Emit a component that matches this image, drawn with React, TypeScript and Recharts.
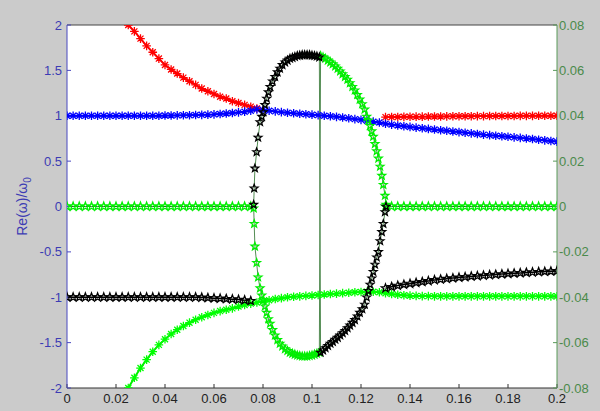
import { LineChart, Line, XAxis, YAxis, CartesianGrid } from "recharts";

// x positions of the smooth branches (step 0.0025)
const X_GRID = [
  0, 0.0025, 0.005, 0.0075, 0.01, 0.0125, 0.015, 0.0175, 0.02, 0.0225,
  0.025, 0.0275, 0.03, 0.0325, 0.035, 0.0375, 0.04, 0.0425, 0.045, 0.0475,
  0.05, 0.0525, 0.055, 0.0575, 0.06, 0.0625, 0.065, 0.0675, 0.07, 0.0725,
  0.075, 0.0775, 0.08, 0.0825, 0.085, 0.0875, 0.09, 0.0925, 0.095, 0.0975,
  0.1, 0.1025, 0.105, 0.1075, 0.11, 0.1125, 0.115, 0.1175, 0.12, 0.1225,
  0.125, 0.1275, 0.13, 0.1325, 0.135, 0.1375, 0.14, 0.1425, 0.145, 0.1475,
  0.15, 0.1525, 0.155, 0.1575, 0.16, 0.1625, 0.165, 0.1675, 0.17, 0.1725,
  0.175, 0.1775, 0.18, 0.1825, 0.185, 0.1875, 0.19, 0.1925, 0.195, 0.1975,
  0.2,
];

// Re(w)/w0, left axis
const BLUE = [
  1, 1, 1, 1, 1, 1, 1, 1, 1, 1,
  1, 1, 1, 1, 1, 1, 1.002, 1.003, 1.004, 1.005,
  1.006, 1.008, 1.01, 1.012, 1.015, 1.02, 1.025, 1.03, 1.037, 1.045,
  1.055, 1.07, 1.065, 1.055, 1.048, 1.04, 1.033, 1.027, 1.022, 1.017,
  1.012, 1.007, 1.0, 0.995, 0.988, 0.98, 0.972, 0.963, 0.955, 0.945,
  0.935, 0.925, 0.912, 0.902, 0.893, 0.885, 0.877, 0.869, 0.862, 0.855,
  0.848, 0.841, 0.834, 0.827, 0.82, 0.813, 0.806, 0.799, 0.792, 0.786,
  0.78, 0.774, 0.768, 0.762, 0.756, 0.75, 0.743, 0.736, 0.729, 0.722,
  0.715,
];

const RED = [
  null, null, null, null, null, null, null, null, null, null,
  2.0, 1.93, 1.85, 1.77, 1.7, 1.63, 1.56, 1.51, 1.465, 1.42,
  1.38, 1.34, 1.3, 1.27, 1.24, 1.21, 1.19, 1.16, 1.14, 1.12,
  1.1, 1.08, null, null, null, null, null, null, null, null,
  null, null, null, null, null, null, null, null, null, null,
  null, null, 0.985, 0.986, 0.987, 0.988, 0.989, 0.99, 0.99, 0.991,
  0.992, 0.992, 0.993, 0.994, 0.994, 0.995, 0.995, 0.996, 0.996, 0.997,
  0.997, 0.998, 0.998, 0.998, 0.999, 0.999, 0.999, 1, 1, 1,
  1,
];

const BLACK_SIDE = [
  -1, -1, -1, -1, -1, -1, -1, -1, -1, -1,
  -1, -1, -1, -1, -1, -1, -1, -1, -1, -1,
  -1, -1, -1.003, -1.006, -1.01, -1.013, -1.017, -1.021, -1.026, -1.032,
  -1.04, null, null, null, null, null, null, null, null, null,
  null, null, null, null, null, null, null, null, null, null,
  null, null, -0.9, -0.885, -0.872, -0.86, -0.85, -0.84, -0.83, -0.82,
  -0.81, -0.803, -0.796, -0.789, -0.782, -0.776, -0.77, -0.765, -0.76, -0.755,
  -0.75, -0.745, -0.74, -0.736, -0.732, -0.728, -0.724, -0.72, -0.717, -0.714,
  -0.71,
];

// Im(w), right axis
const GREEN_ZERO = [
  0, 0, 0, 0, 0, 0, 0, 0, 0, 0,
  0, 0, 0, 0, 0, 0, 0, 0, 0, 0,
  0, 0, 0, 0, 0, 0, 0, 0, 0, 0,
  0, null, null, null, null, null, null, null, null, null,
  null, null, null, null, null, null, null, null, null, null,
  null, null, 0, 0, 0, 0, 0, 0, 0, 0,
  0, 0, 0, 0, 0, 0, 0, 0, 0, 0,
  0, 0, 0, 0, 0, 0, 0, 0, 0, 0,
  0,
];

const GREEN_LOW = [
  null, null, null, null, null, null, null, null, null, null,
  -0.08, -0.0755, -0.0712, -0.0675, -0.064, -0.061, -0.0585, -0.0562, -0.0543, -0.0527,
  -0.0512, -0.0499, -0.0488, -0.0478, -0.0469, -0.0461, -0.0455, -0.0449, -0.0441, -0.0434,
  -0.0428, -0.0423, -0.0418, -0.0413, -0.0408, -0.0404, -0.04, -0.0398, -0.0396, -0.0394,
  -0.0392, -0.039, -0.0388, -0.0386, -0.0384, -0.0382, -0.038, -0.0378, -0.0377, -0.0376,
  -0.0376, -0.0378, -0.0382, -0.0386, -0.0389, -0.0391, -0.0393, -0.0394, -0.0395, -0.0395,
  -0.0396, -0.0396, -0.0396, -0.0396, -0.0396, -0.0396, -0.0396, -0.0396, -0.0396, -0.0396,
  -0.0396, -0.0396, -0.0396, -0.0396, -0.0396, -0.0396, -0.0396, -0.0396, -0.0396, -0.0396,
  -0.0396,
];

// the loop between 0.076 and 0.13
const ARC_X = [
  0.0762, 0.0764, 0.0767, 0.0774, 0.078, 0.0788, 0.0795, 0.0801, 0.0808, 0.0815,
  0.0822, 0.0829, 0.0839, 0.0849, 0.0859, 0.0869, 0.0879, 0.089, 0.09, 0.091,
  0.092, 0.093, 0.094, 0.095, 0.096, 0.097, 0.098, 0.099, 0.1, 0.101,
  0.102, 0.103,
  0.1035, 0.1045, 0.1055, 0.1065, 0.1075, 0.1085, 0.1095, 0.1105, 0.1115, 0.1125,
  0.1135, 0.1145, 0.1155, 0.1165, 0.1175, 0.1185, 0.1195, 0.1205, 0.1215, 0.1223,
  0.123, 0.1237, 0.1244, 0.125, 0.1257, 0.1264, 0.1271, 0.1278, 0.1285, 0.1291,
  0.1298, 0.1302,
];

const BLACK_ARC = [
  0.02, 0.2, 0.42, 0.6, 0.76, 0.93, 0.99, 1.04, 1.12, 1.19,
  1.26, 1.32, 1.38, 1.43, 1.48, 1.52, 1.56, 1.59, 1.61, 1.63,
  1.64, 1.65, 1.66, 1.665, 1.67, 1.67, 1.67, 1.67, 1.665, 1.66,
  1.655, 1.645,
  -1.61, -1.585, -1.56, -1.535, -1.51, -1.49, -1.465, -1.445, -1.42, -1.395,
  -1.37, -1.34, -1.31, -1.28, -1.25, -1.21, -1.17, -1.13, -1.08, -1.0,
  -0.93, -0.86, -0.79, -0.72, -0.64, -0.56, -0.5, -0.38, -0.28, -0.19,
  -0.06, 0.0,
];

const GREEN_ARC = [
  -0.0008, -0.0076, -0.0176, -0.0248, -0.0312, -0.036, -0.0392, -0.0412, -0.044, -0.0468,
  -0.0496, -0.0516, -0.0544, -0.0568, -0.0588, -0.0604, -0.0616, -0.0628, -0.0636, -0.0644,
  -0.0648, -0.0652, -0.0656, -0.0658, -0.066, -0.066, -0.066, -0.0658, -0.0656, -0.0652,
  -0.0648, -0.0644,
  0.0664, 0.0658, 0.0652, 0.0644, 0.0636, 0.0628, 0.0618, 0.0608, 0.0596, 0.0584,
  0.0572, 0.056, 0.0544, 0.0528, 0.0512, 0.0492, 0.0472, 0.0452, 0.0428, 0.0396,
  0.038, 0.0356, 0.0332, 0.0308, 0.0276, 0.0244, 0.0212, 0.0176, 0.0136, 0.0096,
  0.0048, 0.0008,
];

const X_TICKS = [0, 0.02, 0.04, 0.06, 0.08, 0.1, 0.12, 0.14, 0.16, 0.18, 0.2];
const LEFT_TICKS = [-2, -1.5, -1, -0.5, 0, 0.5, 1, 1.5, 2];
const RIGHT_TICKS = [-0.08, -0.06, -0.04, -0.02, 0, 0.02, 0.04, 0.06, 0.08];

const FONT = "'Liberation Sans', Arial, Helvetica, sans-serif";

// matlab-like markers
function asterisk(cx: number, cy: number, r: number) {
  const d = r * 0.7;
  return `M${cx - r} ${cy}H${cx + r}M${cx} ${cy - r}V${cy + r}M${cx - d} ${cy - d}L${cx + d} ${cy + d}M${cx - d} ${cy + d}L${cx + d} ${cy - d}`;
}

function pentagram(cx: number, cy: number, R: number, r: number) {
  let d = "";
  for (let k = 0; k < 10; k++) {
    const a = -Math.PI / 2 + (k * Math.PI) / 5;
    const rad = k % 2 === 0 ? R : r;
    d += (k === 0 ? "M" : "L") + (cx + rad * Math.cos(a)).toFixed(2) + " " + (cy + rad * Math.sin(a)).toFixed(2);
  }
  return d + "Z";
}

const makeDot = (kind: "ast" | "star", color: string, size = 4.3) => (p: any) => {
  const key = `m-${p.index}`;
  if (p.cx == null || p.cy == null || p.value == null || Number.isNaN(p.cy)) return <g key={key} />;
  const d = kind === "ast" ? asterisk(p.cx, p.cy, size) : pentagram(p.cx, p.cy, size, size * 0.42);
  return <path key={key} d={d} fill="none" stroke={color} strokeWidth={1.3} />;
};

function AxisTitle(props: any) {
  const vb = props.viewBox || { x: 22, y: 25, height: 363 };
  const cx = vb.x + 5;
  const cy = vb.y + vb.height / 2;
  return (
    <text
      x={cx}
      y={cy}
      transform={`rotate(-90 ${cx} ${cy})`}
      textAnchor="middle"
      fill="#3c3cb4"
      fontSize={14}
      fontFamily={FONT}
    >
      Re(ω)/ω<tspan dy={4} fontSize={10}>0</tspan>
    </text>
  );
}

export default function App() {
  const gridRows = X_GRID.map((x, i) => ({
    x,
    blue: BLUE[i],
    red: RED[i],
    blackSide: BLACK_SIDE[i],
    greenZero: GREEN_ZERO[i],
    greenLow: GREEN_LOW[i],
  }));
  const arcRows = ARC_X.map((x, i) => ({ x, black: BLACK_ARC[i], green: GREEN_ARC[i] }));

  const common = { type: "linear" as const, isAnimationActive: false, activeDot: false, connectNulls: false };

  return (
    <div style={{ position: "absolute", left: 0, top: 0, width: 600, height: 411, background: "#cbcbcb" }}>
      <LineChart width={600} height={411} margin={{ top: 24, right: 3, bottom: 3, left: 22 }} style={{ fontFamily: FONT }}>
        <CartesianGrid xAxisId="bottom" yAxisId="left" horizontal={false} vertical={false} fill="#ffffff" stroke="none" />
        <XAxis
          xAxisId="bottom"
          dataKey="x"
          type="number"
          domain={[0, 0.2]}
          ticks={X_TICKS}
          interval={0}
          allowDataOverflow
          height={20}
          stroke="#333333"
          tickSize={-4}
          tickMargin={10}
          tick={{ fill: "#222222", fontSize: 13 }}
        />
        <XAxis
          xAxisId="top"
          orientation="top"
          dataKey="x"
          type="number"
          domain={[0, 0.2]}
          ticks={X_TICKS}
          interval={0}
          allowDataOverflow
          height={1}
          stroke="#444444"
          tickSize={-4}
          tick={false}
        />
        <YAxis
          yAxisId="left"
          type="number"
          domain={[-2, 2]}
          ticks={LEFT_TICKS}
          interval={0}
          allowDataOverflow
          width={45}
          stroke="#4848c0"
          tickSize={-4}
          tickMargin={9}
          tick={{ fill: "#3c3cb4", fontSize: 13 }}
          label={<AxisTitle />}
        />
        <YAxis
          yAxisId="right"
          orientation="right"
          type="number"
          domain={[-0.08, 0.08]}
          ticks={RIGHT_TICKS}
          interval={0}
          allowDataOverflow
          width={40}
          stroke="#5a9a5a"
          tickSize={-4}
          tickMargin={6}
          tick={{ fill: "#4a8a4a", fontSize: 13 }}
        />

        <Line {...common} data={gridRows} dataKey="red" xAxisId="bottom" yAxisId="left" stroke="#ff0000" strokeWidth={2} dot={makeDot("ast", "#ff0000")} />
        <Line {...common} data={gridRows} dataKey="greenLow" xAxisId="top" yAxisId="right" stroke="#00ee00" strokeWidth={2} dot={makeDot("ast", "#00ff00")} />
        <Line {...common} data={gridRows} dataKey="blue" xAxisId="bottom" yAxisId="left" stroke="#0000ff" strokeWidth={2} dot={makeDot("ast", "#0000ff")} />
        <Line {...common} data={gridRows} dataKey="greenZero" xAxisId="bottom" yAxisId="right" stroke="#2d6e2d" strokeWidth={1} dot={makeDot("star", "#00ee00")} />
        <Line {...common} data={arcRows} dataKey="green" xAxisId="bottom" yAxisId="right" stroke="#3f7f3f" strokeWidth={0.9} dot={makeDot("star", "#00ee00", 4)} />
        <Line {...common} data={gridRows} dataKey="blackSide" xAxisId="bottom" yAxisId="left" stroke="#000000" strokeWidth={1.5} dot={makeDot("star", "#000000")} />
        <Line {...common} data={arcRows} dataKey="black" xAxisId="bottom" yAxisId="left" stroke="#3f7f3f" strokeWidth={0.9} dot={makeDot("star", "#000000", 4)} />
      </LineChart>
    </div>
  );
}
